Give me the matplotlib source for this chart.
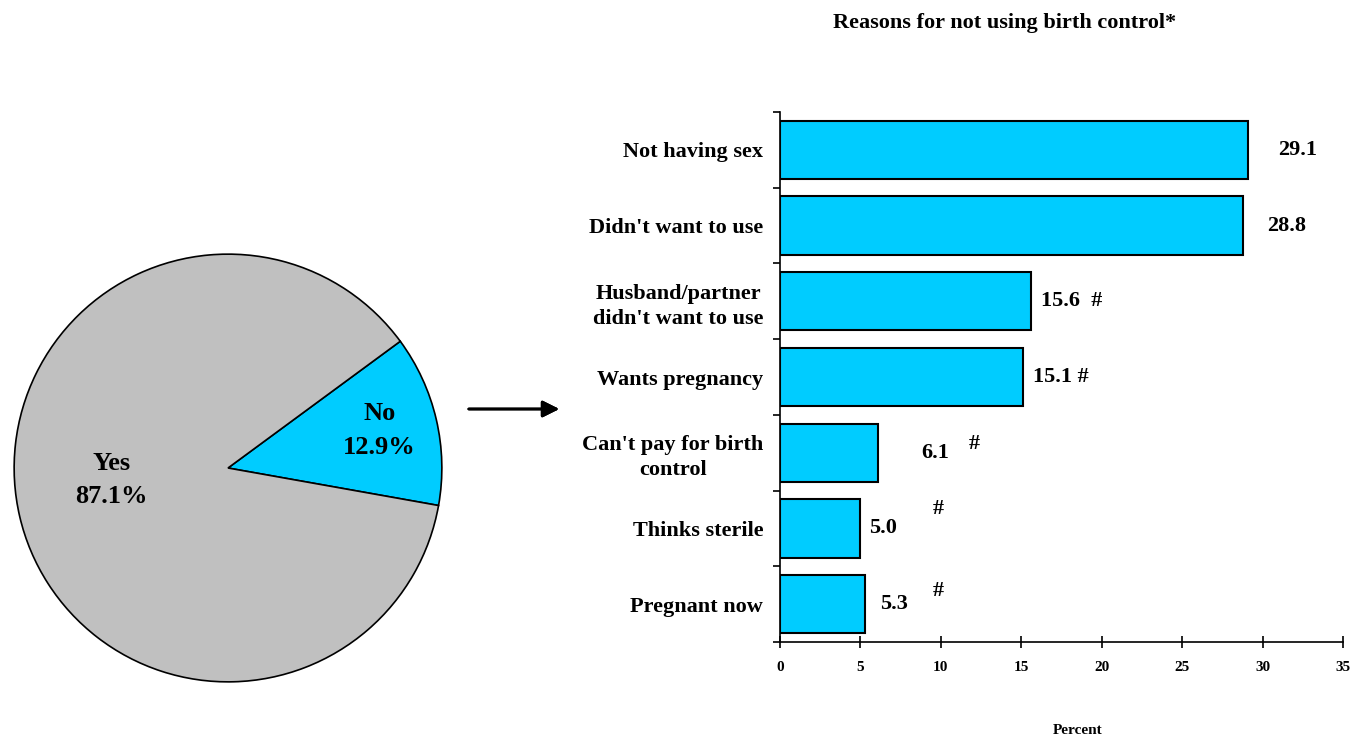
import numpy as np
import matplotlib.pyplot as plt

plt.rcParams['font.family'] = ['Liberation Serif', 'DejaVu Serif']
plt.rcParams['font.weight'] = 'bold'

# pie data
pie_labels = ['No', 'Yes']
pie_values = [12.9, 87.1]
pie_colors = ['#00CCFF', '#C0C0C0']

# bar data
reasons = ['Not having sex', "Didn't want to use", "Husband/partner\ndidn't want to use",
           'Wants pregnancy', "Can't pay for birth\ncontrol", 'Thinks sterile', 'Pregnant now']
percent = [29.1, 28.8, 15.6, 15.1, 6.1, 5.0, 5.3]
value_text = ['29.1', '28.8', '15.6  #', '15.1 #', '6.1', '5.0', '5.3']
flag_bars = [4, 5, 6]   # bars with a separate "#" mark

# label placement (offset from bar end), and "#" positions
label_gap = [1.86, 1.47, 0.63, 0.63, 2.67, 0.53, 0.92]
flag_x = [12.1, 9.82, 9.82]
flag_dy = [-0.12, -0.26, -0.18]

fig = plt.figure(figsize=(13.56, 7.38), dpi=100)

# ---- pie ----
pax = fig.add_axes([12/1356, 1-684/738, 432/1356, 432/738])
wedges, _ = pax.pie(pie_values, colors=pie_colors, startangle=-10.1, counterclock=True,
                    wedgeprops=dict(edgecolor='black', linewidth=1.2))
pax.set_xlim(-1.01, 1.01)
pax.set_ylim(-1.01, 1.01)
pax.set_aspect('equal')
pax.text(0.708, 0.176, f'{pie_labels[0]}\n{pie_values[0]}%', ha='center', va='center',
         fontsize=19, fontweight='bold', linespacing=1.6)
pax.text(-0.546, -0.056, f'{pie_labels[1]}\n{pie_values[1]}%', ha='center', va='center',
         fontsize=19, fontweight='bold', linespacing=1.6)

# arrow between the charts
fig.add_artist(plt.annotate('', xy=(562/1356, 1-409/738), xytext=(466/1356, 1-409/738),
                            xycoords='figure fraction',
                            arrowprops=dict(arrowstyle='-|>', color='black', lw=2,
                                            mutation_scale=25)))

# ---- bars ----
ax = fig.add_axes([780/1356, 1-642/738, 563/1356, 530/738])
y = np.arange(len(reasons))
ax.barh(y, percent, height=0.77, color='#00CCFF', edgecolor='black', linewidth=1.5)
ax.set_ylim(len(reasons)-0.5, -0.5)
ax.set_xlim(0, 35)
ax.set_xticks(np.arange(0, 36, 5))
ax.set_yticks(y)
ax.set_yticklabels(reasons, fontsize=16, fontweight='bold', linespacing=1.35,
                   multialignment='center')
ax.set_yticks(np.arange(-0.5, len(reasons), 1), minor=True)
ax.tick_params(axis='y', which='major', length=0, pad=12)
ax.tick_params(axis='y', which='minor', length=5, width=1.2, direction='out')
ax.tick_params(axis='x', length=8, width=1.2, direction='inout', pad=10, labelsize=11)
for lab in ax.get_xticklabels():
    lab.set_fontweight('bold')
for s in ['top', 'right']:
    ax.spines[s].set_visible(False)
for s in ['left', 'bottom']:
    ax.spines[s].set_linewidth(1.2)

for i, (v, t) in enumerate(zip(percent, value_text)):
    ax.text(v + label_gap[i], i, t, ha='left', va='center', fontsize=16, fontweight='bold')
for k, i in enumerate(flag_bars):
    ax.text(flag_x[k], i + flag_dy[k], '#', ha='center', va='center', fontsize=16, fontweight='bold')

fig.text(1005/1356, 1-23/738, 'Reasons for not using birth control*', ha='center', va='center',
         fontsize=16, fontweight='bold')
fig.text(1078/1356, 1-730/738, 'Percent', ha='center', va='center', fontsize=11, fontweight='bold')

fig.savefig('out.png', dpi=100)
